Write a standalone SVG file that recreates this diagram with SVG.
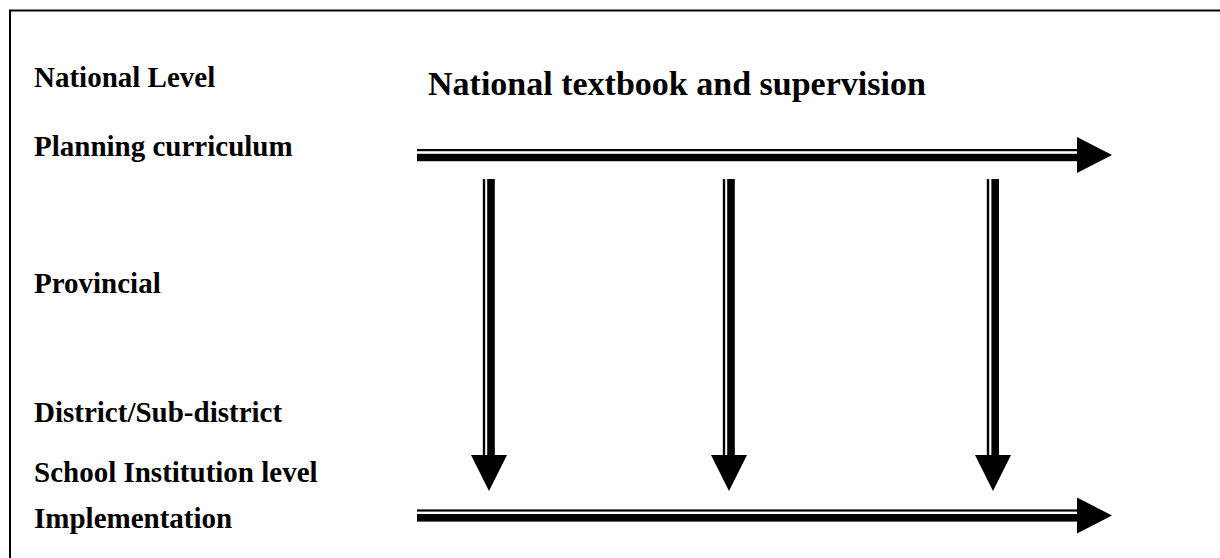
<svg xmlns="http://www.w3.org/2000/svg" width="1220" height="558" viewBox="0 0 1220 558">
<style>
.t{font-family:"Liberation Serif","Times New Roman",serif;font-weight:bold;font-size:29px;fill:#000}
.title{font-size:34px}
</style>
<rect x="0" y="0" width="1220" height="558" fill="#fff"/>
<path d="M10 558 V10.5 H1220" fill="none" stroke="#000" stroke-width="2"/>
<g id="label-national"><text class="t" x="34" y="87">National Level</text></g>
<g id="label-planning"><text class="t" x="34" y="156">Planning curriculum</text></g>
<g id="label-textbook"><text class="t title" x="428" y="95">National textbook and supervision</text></g>
<g id="label-provincial"><text class="t" x="34" y="293">Provincial</text></g>
<g id="label-district"><text class="t" x="34" y="422">District/Sub-district</text></g>
<g id="label-school"><text class="t" x="34" y="482">School Institution level</text></g>
<g id="label-implementation"><text class="t" x="34" y="528">Implementation</text></g>
<g id="connectors">
  <g id="arrow-top">
    <rect x="417" y="149" width="662" height="2.2"/>
    <rect x="417" y="153.8" width="662" height="7.4"/>
    <polygon points="1077,137 1112,155 1077,173"/>
  </g>
  <g id="arrow-bottom">
    <rect x="417" y="509.4" width="662" height="2.2"/>
    <rect x="417" y="514" width="662" height="7.6"/>
    <polygon points="1077,497.5 1112,515.5 1077,533.5"/>
  </g>
  <g id="arrow-down-1">
    <rect x="482.8" y="179" width="2.4" height="278"/>
    <rect x="487.2" y="179" width="7.6" height="278"/>
    <polygon points="471,455 507,455 489,491"/>
  </g>
  <g id="arrow-down-2">
    <rect x="722.8" y="179" width="2.4" height="278"/>
    <rect x="727.2" y="179" width="7.6" height="278"/>
    <polygon points="711,455 747,455 729,491"/>
  </g>
  <g id="arrow-down-3">
    <rect x="986.8" y="179" width="2.4" height="278"/>
    <rect x="991.4" y="179" width="7.6" height="278"/>
    <polygon points="975,455 1011,455 993,491"/>
  </g>
</g>
</svg>
